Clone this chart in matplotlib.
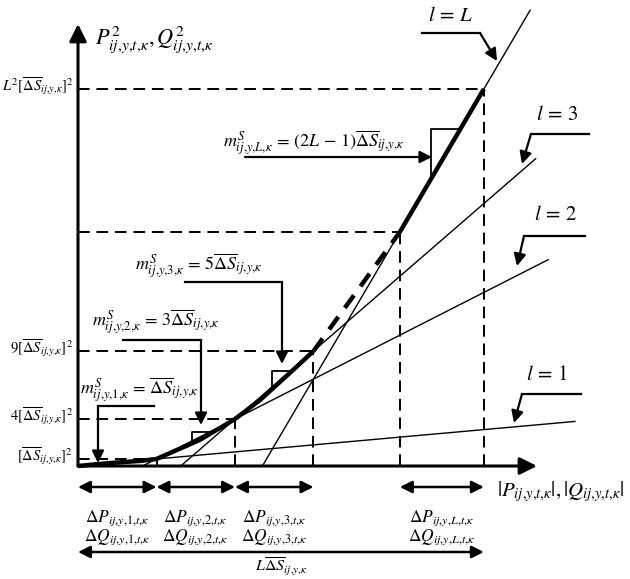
import matplotlib
matplotlib.use("Agg")
import matplotlib.pyplot as plt

plt.rcParams['mathtext.fontset'] = 'stix'
plt.rcParams['font.family'] = ['STIXGeneral', 'DejaVu Serif']

W, H = 630, 579
X0, Y0 = 78, 466      # pixel position of the origin
UX, UY = 78.5, 12.8   # pixels per unit of dS and of dS^2

# breakpoints of the piecewise linearisation (x in dS, y in dS^2)
seg_x = [0, 1.0, 2.0, 3.0, 4.1, 5.17]
seg_y = [0, 0.55, 3.67, 8.98, 18.28, 29.45]

# the thick quadratic curve up to the third breakpoint
curve_x = [0, 0.4, 0.8, 1.0, 1.55, 2.0, 2.32, 2.74, 3.0]
curve_y = [0, 0.23, 0.4, 0.55, 2.03, 3.67, 5.16, 7.5, 8.98]

# segments l = 1, 2, 3, L : index of start breakpoint and right end of the thin line
line_start = [0, 1, 2, 4]
line_end_x = [6.33, 5.99, 5.83, 5.76]
line_names = ['1', '2', '3', 'L']

# small slope markers (x of vertical leg, x of end of horizontal leg)
marker_x = [(0.22, 0.43), (1.45, 1.68), (2.47, 2.7), (4.5, 4.87)]

S = r'\overline{\Delta S}_{ij{,}y{,}\kappa}'
ytick_labels = [r'$[%s]^2$' % S, r'$4[%s]^2$' % S, r'$9[%s]^2$' % S,
                None, r'$L^2[%s]^2$' % S]

slope_labels = [r'$m^S_{ij{,}y{,}1{,}\kappa}\,=\,%s$' % S,
                r'$m^S_{ij{,}y{,}2{,}\kappa}\,=\,3%s$' % S,
                r'$m^S_{ij{,}y{,}3{,}\kappa}\,=\,5%s$' % S,
                r'$m^S_{ij{,}y{,}L{,}\kappa}\,=\,(2L\,-\,1)%s$' % S]

delta_names = ['1', '2', '3', None, 'L']


def P(xp, yp):
    # pixel -> data
    return ((xp - X0) / UX, (Y0 - yp) / UY)


fig = plt.figure(figsize=(W / 100, H / 100), dpi=100)
ax = fig.add_axes([0, 0, 1, 1])
ax.set_xlim(-X0 / UX, (W - X0) / UX)
ax.set_ylim(-(H - Y0) / UY, Y0 / UY)
ax.axis('off')

K = 'black'
arr = dict(arrowstyle='-|>', color=K, lw=1.6, mutation_scale=18, shrinkA=0, shrinkB=0)

# axes
ax.annotate('', xy=P(78, 24), xytext=(0, 0),
            arrowprops=dict(arrowstyle='-|>', color=K, lw=2.2, mutation_scale=26, shrinkA=0, shrinkB=0))
ax.annotate('', xy=P(537, 466), xytext=(0, 0),
            arrowprops=dict(arrowstyle='-|>', color=K, lw=2.2, mutation_scale=26, shrinkA=0, shrinkB=0))

# dashed guides
for i in range(1, len(seg_x)):
    ax.plot([0, seg_x[i]], [seg_y[i], seg_y[i]], color=K, lw=1.4, ls=(0, (6, 3.5)))
    ax.plot([seg_x[i], seg_x[i]], [0, seg_y[i]], color=K, lw=1.4, ls=(0, (6, 3.5)))

# thin extended chords
for s, xe in zip(line_start, line_end_x):
    xa, ya = seg_x[s], seg_y[s]
    m = (seg_y[s + 1] - ya) / (seg_x[s + 1] - xa)
    x0 = max(0, xa - ya / m)
    ax.plot([x0, xe], [ya + m * (x0 - xa), ya + m * (xe - xa)], color=K, lw=1.0)

# slope markers
for s, (xa, xb) in zip(line_start, marker_x):
    m = (seg_y[s + 1] - seg_y[s]) / (seg_x[s + 1] - seg_x[s])
    f = lambda x: seg_y[s] + m * (x - seg_x[s])
    ax.plot([xa, xa, xb], [f(xa), f(xb), f(xb)], color=K, lw=1.3)

# thick curve
ax.plot(curve_x, curve_y, color=K, lw=3.2, solid_capstyle='butt')
ax.plot(seg_x[3:5], seg_y[3:5], color=K, lw=3.2, ls=(0, (3.5, 2.5)))
ax.plot(seg_x[4:6], seg_y[4:6], color=K, lw=3.2, solid_capstyle='butt')

# y tick labels
for yv, lab in zip(seg_y[1:], ytick_labels):
    if lab:
        ax.text(P(73, 0)[0], yv + 0.2, lab, ha='right', va='center', fontsize=10.5)

# axis labels
ax.text(*P(95, 40), r'$P^2_{ij{,}y{,}t{,}\kappa}, Q^2_{ij{,}y{,}t{,}\kappa}$',
        ha='left', va='center', fontsize=16)
ax.text(*P(497, 492), r'$|P_{ij{,}y{,}t{,}\kappa}|, |Q_{ij{,}y{,}t{,}\kappa}|$',
        ha='left', va='center', fontsize=15)

# l = ... labels with bent arrows (pixel layout)
l_text = [(547, 375), (555, 215), (557, 115), (450, 16)]
l_path = [[(581, 394), (522, 394)], [(585, 236), (524, 236)],
          [(589, 134), (531, 134)], [(422, 33), (480, 33)]]
l_tip = [(514, 423), (517, 266), (522, 164), (497, 61)]
for name, tp, pth, tip in zip(line_names, l_text, l_path, l_tip):
    ax.text(*P(*tp), r'$l\,=\,%s$' % name, ha='center', va='center', fontsize=15)
    ax.plot(*zip(*[P(*q) for q in pth]), color=K, lw=1.6)
    ax.annotate('', xy=P(*tip), xytext=P(*pth[-1]), arrowprops=arr)

# slope labels with leader arrows
m_text = [(80, 390), (92, 322), (135, 266), (223, 143)]
m_path = [[(154, 406), (98, 406)], [(123, 340), (201, 340)],
          [(185, 282), (282, 282)], [(245, 157)]]
m_tip = [(98, 463), (201, 425), (282, 364), (432, 157)]
for lab, tp, pth, tip in zip(slope_labels, m_text, m_path, m_tip):
    ax.text(*P(*tp), lab, ha='left', va='center', fontsize=13)
    if len(pth) > 1:
        ax.plot(*zip(*[P(*q) for q in pth]), color=K, lw=1.6)
    ax.annotate('', xy=P(*tip), xytext=P(*pth[-1]), arrowprops=arr)

# segment widths below the axis
dbl = dict(arrowstyle='<|-|>', color=K, lw=1.8, mutation_scale=18, shrinkA=0, shrinkB=0)
y_arrow = P(0, 487)[1]
for i, nm in enumerate(delta_names):
    if nm is None:
        continue
    xa, xb = seg_x[i], seg_x[i + 1]
    ax.annotate('', xy=(xb, y_arrow), xytext=(xa, y_arrow), arrowprops=dbl)
    xc = (xa + xb) / 2
    ax.text(xc, P(0, 518)[1], r'$\Delta P_{ij{,}y{,}%s{,}t{,}\kappa}$' % nm,
            ha='center', va='center', fontsize=12.5)
    ax.text(xc, P(0, 537)[1], r'$\Delta Q_{ij{,}y{,}%s{,}t{,}\kappa}$' % nm,
            ha='center', va='center', fontsize=12.5)

y_long = P(0, 552)[1]
ax.annotate('', xy=(seg_x[-1], y_long), xytext=(0, y_long), arrowprops=dbl)
ax.text(seg_x[-1] / 2, P(0, 577)[1], r'$L%s$' % S, ha='center', va='bottom', fontsize=11.5)

plt.savefig('out.png', dpi=100)
